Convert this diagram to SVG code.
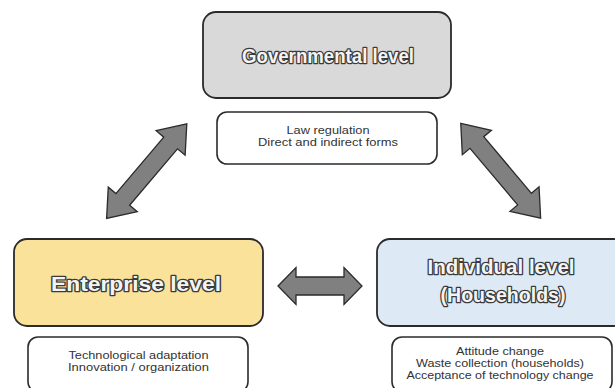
<svg xmlns="http://www.w3.org/2000/svg" width="615" height="388" viewBox="0 0 615 388">
<defs>
<style>
.big{stroke:#2b2b2b;stroke-width:1.8}
.small{fill:#ffffff;stroke:#2b2b2b;stroke-width:1.6}
.title{font-family:"Liberation Sans",Arial,sans-serif;font-weight:bold;font-size:20px;fill:#f4f4f4;stroke:#3a3a3a;stroke-width:2.6;stroke-linejoin:round;paint-order:stroke fill;text-anchor:middle}
.note{font-family:"Liberation Sans",Arial,sans-serif;font-size:11px;fill:#333333;text-anchor:middle}
.arrow{fill:#808080;stroke:#2a2a2a;stroke-width:1.3;stroke-linejoin:miter}
</style>
</defs>
<rect width="615" height="388" fill="#ffffff"/>
<g id="governmental">
<rect class="big" x="203" y="12" width="248" height="86" rx="13" fill="#d9d9d9"/>
<text class="title" x="328" y="63" textLength="172" lengthAdjust="spacingAndGlyphs">Governmental level</text>
</g>
<g id="governmental-notes">
<rect class="small" x="217" y="112" width="220" height="52" rx="10"/>
<text class="note" x="328" y="133.5" textLength="83" lengthAdjust="spacingAndGlyphs">Law regulation</text>
<text class="note" x="328" y="146" textLength="140" lengthAdjust="spacingAndGlyphs">Direct and indirect forms</text>
</g>
<g id="enterprise">
<rect class="big" x="14" y="239" width="249" height="87" rx="13" fill="#fae29b"/>
<text class="title" x="136" y="291" textLength="170" lengthAdjust="spacingAndGlyphs">Enterprise level</text>
</g>
<g id="enterprise-notes">
<rect class="small" x="28" y="337" width="220" height="55" rx="10"/>
<text class="note" x="138.5" y="358.5" textLength="140" lengthAdjust="spacingAndGlyphs">Technological adaptation</text>
<text class="note" x="138.5" y="370.5" textLength="141" lengthAdjust="spacingAndGlyphs">Innovation / organization</text>
</g>
<g id="individual">
<rect class="big" x="377" y="239" width="250" height="87" rx="13" fill="#dde9f5"/>
<text class="title" x="501" y="274" textLength="147" lengthAdjust="spacingAndGlyphs">Individual level</text>
<text class="title" x="503" y="302" textLength="125" lengthAdjust="spacingAndGlyphs">(Households)</text>
</g>
<g id="individual-notes">
<rect class="small" x="392" y="337" width="220" height="55" rx="10"/>
<text class="note" x="500" y="355" textLength="88" lengthAdjust="spacingAndGlyphs">Attitude change</text>
<text class="note" x="500" y="367" textLength="168" lengthAdjust="spacingAndGlyphs">Waste collection (households)</text>
<text class="note" x="500" y="379" textLength="187" lengthAdjust="spacingAndGlyphs">Acceptance of technology change</text>
</g>
<g id="connectors">
<path class="arrow" transform="translate(146.7,171.2) rotate(-49.7)" d="M-62,0 L-37,-19 L-37,-9 L37,-9 L37,-19 L62,0 L37,19 L37,9 L-37,9 L-37,19 Z"/>
<path class="arrow" transform="translate(500.7,170.8) rotate(49.9)" d="M-62,0 L-37,-19 L-37,-9 L37,-9 L37,-19 L62,0 L37,19 L37,9 L-37,9 L-37,19 Z"/>
<path class="arrow" transform="translate(320,286)" d="M-42,0 L-24,-18.5 L-24,-9 L24,-9 L24,-18.5 L42,0 L24,18.5 L24,9 L-24,9 L-24,18.5 Z"/>
</g>
</svg>
